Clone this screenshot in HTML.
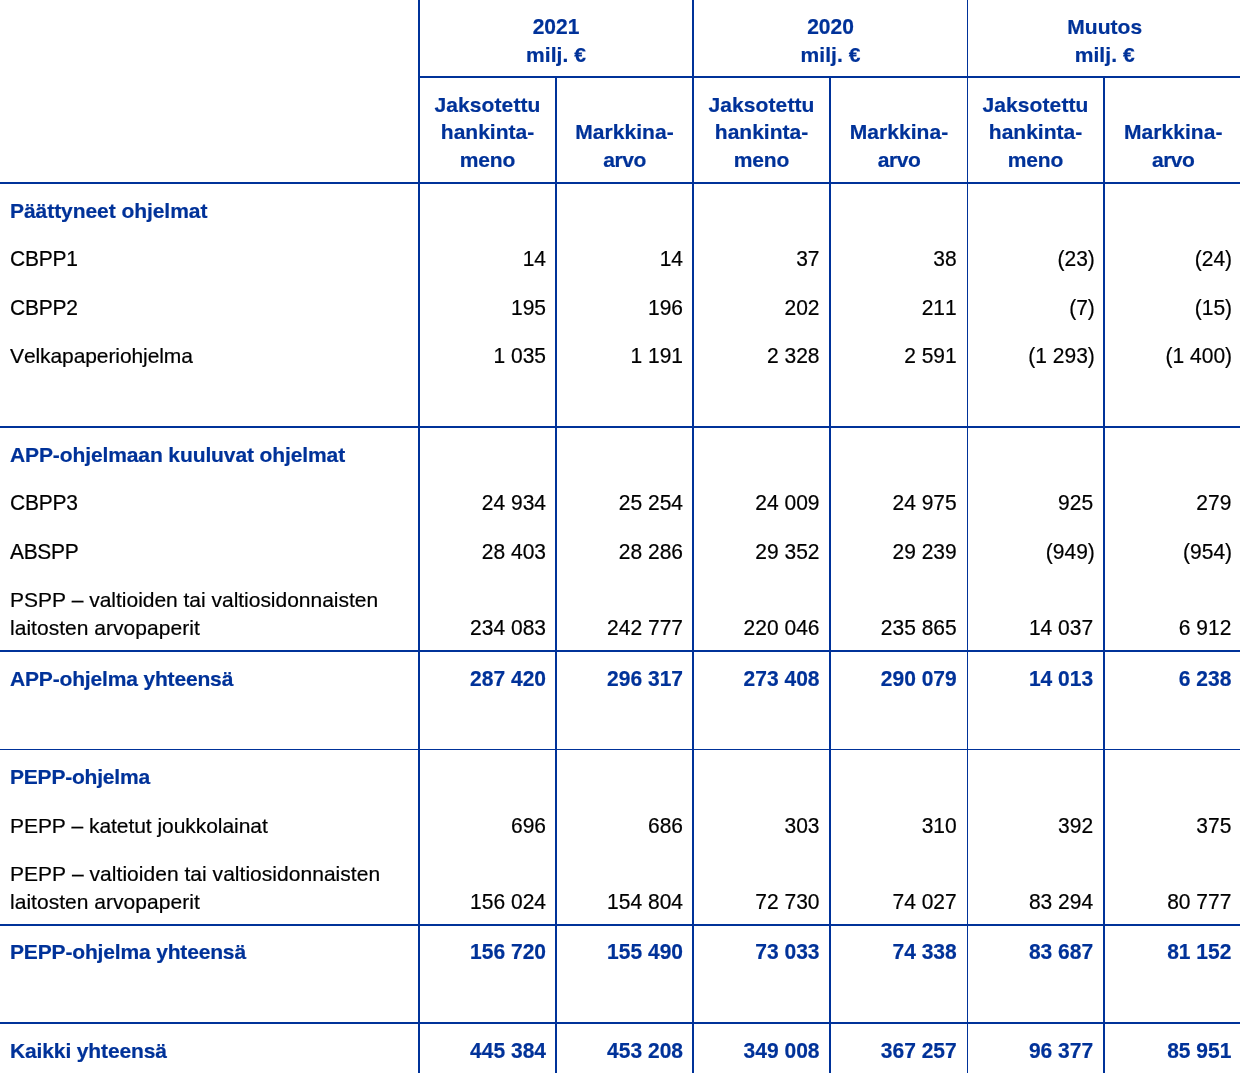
<!DOCTYPE html>
<html lang="fi">
<head>
<meta charset="utf-8">
<title>Rahapoliittisista syistä hallussa pidettävät arvopaperit</title>
<style>
html,body{margin:0;padding:0;background:#fff;}
body{width:1240px;height:1081px;overflow:hidden;font-family:"Liberation Sans",sans-serif;font-size:21px;line-height:28px;color:#000;font-kerning:none;}
table{border-collapse:separate;border-spacing:0;table-layout:fixed;width:1240px;margin:0;}
td,th{padding:0;margin:0;box-sizing:border-box;font-weight:normal;white-space:nowrap;}
span.t{display:block;height:28px;line-height:28px;-webkit-text-stroke:0.2px currentColor;}
span.n{transform:scaleY(1.03);transform-origin:50% 21px;}
.v2{border-left:2px solid #003299;}
.v1{border-left:1px solid #003299;}
tr.h2 > *, th.hb{border-bottom:2px solid #003299;}
tr.h1 > *{border-bottom:1px solid #003299;}
thead th{color:#003299;font-weight:bold;text-align:center;vertical-align:top;letter-spacing:0;}
tr.hd1 th{height:78px;padding-top:13px;}
tr.hd2 th{height:106px;padding-top:13px;}
tr.hd2 th.m{padding-top:40px;}
tr.hd2 span.t + span.t{margin-top:-1px;}
tr.hd2 span.t + span.t + span.t{margin-top:0;}
tr.hd2 th.m span.t + span.t{margin-top:0;}
tbody td{vertical-align:top;text-align:right;padding-right:9px;}
tbody td.l{text-align:left;padding-left:10px;padding-right:0;}
tr.b td{color:#003299;font-weight:bold;}
tbody td.c3{padding-right:9.5px;}
tbody td.c4{padding-right:10.3px;}
tbody td.c5{padding-right:9.9px;}
tbody td.c6{padding-right:8.6px;}
thead th.last{padding-left:1.4px;}
thead th.g3{padding-left:1.4px;}
tbody td.c5.p{padding-right:8.2px;}
tbody td.c6.p{padding-right:7.9px;}
tr.r48p13 td{height:48px;padding-top:13px;}
tr.r49p12 td{height:49px;padding-top:12px;}
tr.r49p13 td{height:49px;padding-top:13px;}
tr.r50p13 td{height:50px;padding-top:13px;}
tr.r78p12 td{height:78px;padding-top:12px;}
tbody tr td.bt{padding-top:40px;}
</style>
</head>
<body>
<table>
<colgroup><col style="width:418px"><col style="width:137px"><col style="width:137px"><col style="width:137px"><col style="width:138px"><col style="width:136px"><col style="width:137px"></colgroup>
<thead>
<tr class="hd1"><th rowspan="2" class="hb"></th><th colspan="2" class="v2 hb"><span class="t n">2021</span><span class="t" style="letter-spacing:0.05px">milj. €</span></th><th colspan="2" class="v2 hb"><span class="t n">2020</span><span class="t" style="letter-spacing:0.05px">milj. €</span></th><th colspan="2" class="v1 g3 hb"><span class="t" style="letter-spacing:0.04px">Muutos</span><span class="t" style="letter-spacing:0.05px">milj. €</span></th></tr>
<tr class="hd2 h2"><th class="v2"><span class="t" style="letter-spacing:0.1px">Jaksotettu</span><span class="t">hankinta-</span><span class="t" style="letter-spacing:-0.1px">meno</span></th><th class="v2 m"><span class="t" style="letter-spacing:0.05px">Markkina-</span><span class="t" style="letter-spacing:-0.45px">arvo</span></th><th class="v2"><span class="t" style="letter-spacing:0.1px">Jaksotettu</span><span class="t">hankinta-</span><span class="t" style="letter-spacing:-0.1px">meno</span></th><th class="v2 m"><span class="t" style="letter-spacing:0.05px">Markkina-</span><span class="t" style="letter-spacing:-0.45px">arvo</span></th><th class="v1"><span class="t" style="letter-spacing:0.1px">Jaksotettu</span><span class="t">hankinta-</span><span class="t" style="letter-spacing:-0.1px">meno</span></th><th class="v2 m last"><span class="t" style="letter-spacing:0.05px">Markkina-</span><span class="t" style="letter-spacing:-0.45px">arvo</span></th></tr>
</thead>
<tbody>
<tr class="r48p13 b"><td class="l"><span class="t" style="letter-spacing:-0.056px">Päättyneet ohjelmat</span></td><td class="v2 c1"></td><td class="v2 c2"></td><td class="v2 c3"></td><td class="v2 c4"></td><td class="v1 c5"></td><td class="v2 c6"></td></tr>
<tr class="r49p13"><td class="l"><span class="t n" style="letter-spacing:-0.245px">CBPP1</span></td><td class="v2 c1"><span class="t n">14</span></td><td class="v2 c2"><span class="t n">14</span></td><td class="v2 c3"><span class="t n">37</span></td><td class="v2 c4"><span class="t n">38</span></td><td class="v1 c5 p"><span class="t n">(23)</span></td><td class="v2 c6 p"><span class="t n">(24)</span></td></tr>
<tr class="r48p13"><td class="l"><span class="t n" style="letter-spacing:-0.245px">CBPP2</span></td><td class="v2 c1"><span class="t n">195</span></td><td class="v2 c2"><span class="t n">196</span></td><td class="v2 c3"><span class="t n">202</span></td><td class="v2 c4"><span class="t n">211</span></td><td class="v1 c5 p"><span class="t n">(7)</span></td><td class="v2 c6 p"><span class="t n">(15)</span></td></tr>
<tr class="r49p13"><td class="l"><span class="t" style="letter-spacing:-0.088px">Velkapaperiohjelma</span></td><td class="v2 c1"><span class="t n">1 035</span></td><td class="v2 c2"><span class="t n">1 191</span></td><td class="v2 c3"><span class="t n">2 328</span></td><td class="v2 c4"><span class="t n">2 591</span></td><td class="v1 c5 p"><span class="t n">(1 293)</span></td><td class="v2 c6 p"><span class="t n">(1 400)</span></td></tr>
<tr class="r50p13 h2"><td class="l"></td><td class="v2 c1"></td><td class="v2 c2"></td><td class="v2 c3"></td><td class="v2 c4"></td><td class="v1 c5"></td><td class="v2 c6"></td></tr>
<tr class="r48p13 b"><td class="l"><span class="t" style="letter-spacing:-0.107px">APP-ohjelmaan kuuluvat ohjelmat</span></td><td class="v2 c1"></td><td class="v2 c2"></td><td class="v2 c3"></td><td class="v2 c4"></td><td class="v1 c5"></td><td class="v2 c6"></td></tr>
<tr class="r49p13"><td class="l"><span class="t n" style="letter-spacing:-0.245px">CBPP3</span></td><td class="v2 c1"><span class="t n">24 934</span></td><td class="v2 c2"><span class="t n">25 254</span></td><td class="v2 c3"><span class="t n">24 009</span></td><td class="v2 c4"><span class="t n">24 975</span></td><td class="v1 c5"><span class="t n">925</span></td><td class="v2 c6"><span class="t n">279</span></td></tr>
<tr class="r49p13"><td class="l"><span class="t n" style="letter-spacing:-0.345px">ABSPP</span></td><td class="v2 c1"><span class="t n">28 403</span></td><td class="v2 c2"><span class="t n">28 286</span></td><td class="v2 c3"><span class="t n">29 352</span></td><td class="v2 c4"><span class="t n">29 239</span></td><td class="v1 c5 p"><span class="t n">(949)</span></td><td class="v2 c6 p"><span class="t n">(954)</span></td></tr>
<tr class="r78p12 h2"><td class="l"><span class="t" style="letter-spacing:-0.021px">PSPP – valtioiden tai valtiosidonnaisten</span><span class="t" style="letter-spacing:0.03px">laitosten arvopaperit</span></td><td class="v2 c1 bt"><span class="t n">234 083</span></td><td class="v2 c2 bt"><span class="t n">242 777</span></td><td class="v2 c3 bt"><span class="t n">220 046</span></td><td class="v2 c4 bt"><span class="t n">235 865</span></td><td class="v1 c5 bt"><span class="t n">14 037</span></td><td class="v2 c6 bt"><span class="t n">6 912</span></td></tr>
<tr class="r49p13 b"><td class="l"><span class="t" style="letter-spacing:-0.163px">APP-ohjelma yhteensä</span></td><td class="v2 c1"><span class="t n">287 420</span></td><td class="v2 c2"><span class="t n">296 317</span></td><td class="v2 c3"><span class="t n">273 408</span></td><td class="v2 c4"><span class="t n">290 079</span></td><td class="v1 c5"><span class="t n">14 013</span></td><td class="v2 c6"><span class="t n">6 238</span></td></tr>
<tr class="r49p13 h1"><td class="l"></td><td class="v2 c1"></td><td class="v2 c2"></td><td class="v2 c3"></td><td class="v2 c4"></td><td class="v1 c5"></td><td class="v2 c6"></td></tr>
<tr class="r49p13 b"><td class="l"><span class="t" style="letter-spacing:-0.209px">PEPP-ohjelma</span></td><td class="v2 c1"></td><td class="v2 c2"></td><td class="v2 c3"></td><td class="v2 c4"></td><td class="v1 c5"></td><td class="v2 c6"></td></tr>
<tr class="r49p13"><td class="l"><span class="t" style="letter-spacing:-0.055px">PEPP – katetut joukkolainat</span></td><td class="v2 c1"><span class="t n">696</span></td><td class="v2 c2"><span class="t n">686</span></td><td class="v2 c3"><span class="t n">303</span></td><td class="v2 c4"><span class="t n">310</span></td><td class="v1 c5"><span class="t n">392</span></td><td class="v2 c6"><span class="t n">375</span></td></tr>
<tr class="r78p12 h2"><td class="l"><span class="t" style="letter-spacing:0.03px">PEPP – valtioiden tai valtiosidonnaisten</span><span class="t" style="letter-spacing:0.03px">laitosten arvopaperit</span></td><td class="v2 c1 bt"><span class="t n">156 024</span></td><td class="v2 c2 bt"><span class="t n">154 804</span></td><td class="v2 c3 bt"><span class="t n">72 730</span></td><td class="v2 c4 bt"><span class="t n">74 027</span></td><td class="v1 c5 bt"><span class="t n">83 294</span></td><td class="v2 c6 bt"><span class="t n">80 777</span></td></tr>
<tr class="r49p12 b"><td class="l"><span class="t" style="letter-spacing:-0.16px">PEPP-ohjelma yhteensä</span></td><td class="v2 c1"><span class="t n">156 720</span></td><td class="v2 c2"><span class="t n">155 490</span></td><td class="v2 c3"><span class="t n">73 033</span></td><td class="v2 c4"><span class="t n">74 338</span></td><td class="v1 c5"><span class="t n">83 687</span></td><td class="v2 c6"><span class="t n">81 152</span></td></tr>
<tr class="r49p13 h2"><td class="l"></td><td class="v2 c1"></td><td class="v2 c2"></td><td class="v2 c3"></td><td class="v2 c4"></td><td class="v1 c5"></td><td class="v2 c6"></td></tr>
<tr class="r49p13 b"><td class="l"><span class="t" style="letter-spacing:-0.13px">Kaikki yhteensä</span></td><td class="v2 c1"><span class="t n">445 384</span></td><td class="v2 c2"><span class="t n">453 208</span></td><td class="v2 c3"><span class="t n">349 008</span></td><td class="v2 c4"><span class="t n">367 257</span></td><td class="v1 c5"><span class="t n">96 377</span></td><td class="v2 c6"><span class="t n">85 951</span></td></tr>
</tbody>
</table>
</body>
</html>
